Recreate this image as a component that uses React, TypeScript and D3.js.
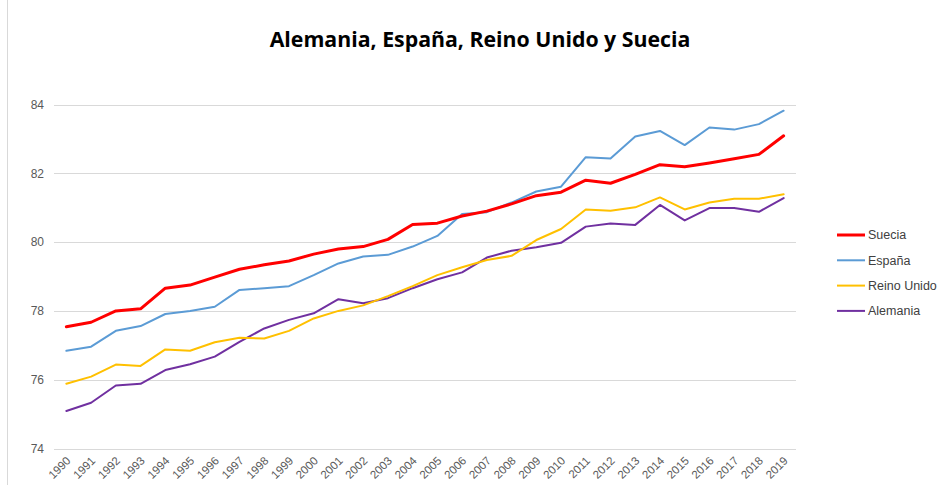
import React from "react";
import * as d3 from "d3";

const years = d3.range(1990, 2020).map(String);
const suecia = [77.54, 77.67, 78.0, 78.06, 78.66, 78.75, 78.98, 79.21, 79.34, 79.45, 79.65, 79.8, 79.87, 80.08, 80.51, 80.55, 80.76, 80.9, 81.11, 81.35, 81.45, 81.8, 81.71, 81.97, 82.25, 82.19, 82.3, 82.42, 82.55, 83.09];
const espana = [76.84, 76.96, 77.42, 77.56, 77.91, 78.0, 78.12, 78.61, 78.66, 78.72, 79.04, 79.38, 79.58, 79.63, 79.87, 80.18, 80.82, 80.87, 81.15, 81.47, 81.61, 82.47, 82.43, 83.07, 83.23, 82.82, 83.33, 83.27, 83.43, 83.82];
const reinoUnido = [75.88, 76.09, 76.44, 76.4, 76.88, 76.84, 77.09, 77.22, 77.2, 77.42, 77.78, 78.0, 78.16, 78.43, 78.72, 79.04, 79.27, 79.48, 79.6, 80.06, 80.38, 80.95, 80.91, 81.01, 81.3, 80.95, 81.15, 81.26, 81.26, 81.39];
const alemania = [75.09, 75.33, 75.83, 75.88, 76.28, 76.45, 76.67, 77.1, 77.49, 77.74, 77.93, 78.34, 78.22, 78.37, 78.66, 78.92, 79.12, 79.55, 79.75, 79.85, 79.98, 80.45, 80.54, 80.5, 81.08, 80.63, 80.99, 80.99, 80.88, 81.28];
const yTicks = [74, 76, 78, 80, 82, 84];
const title = "Alemania, España, Reino Unido y Suecia";

const seriesNames = ["Suecia", "España", "Reino Unido", "Alemania"];
const seriesColors = ["#FF0000", "#5B9BD5", "#FFC000", "#7030A0"];
const seriesWidths = [3, 2, 2, 2];

export default function App() {
  const W = 940, H = 485;
  const left = 54, right = 796, top = 104.5, bottom = 448.5;
  const x = d3.scaleBand<string>().domain(years).range([left, right]);
  const y = d3.scaleLinear().domain([74, 84]).range([bottom, top]);
  const data = [suecia, espana, reinoUnido, alemania];
  const line = d3
    .line<number>()
    .x((_, i) => (x(years[i]) as number) + x.bandwidth() / 2)
    .y((d) => y(d));
  const font = "'Liberation Sans', Arial, sans-serif";
  const order = [3, 2, 1, 0];
  return (
    <svg
      width={W}
      height={H}
      style={{ position: "absolute", left: 0, top: 0, background: "#fff" }}
      fontFamily={font}
    >
      <rect x={0} y={0} width={W} height={H} fill="#fff" />
      <line x1={7.5} x2={7.5} y1={0} y2={H} stroke="#D9D9D9" strokeWidth={1} />
      <text
        x={480}
        y={47}
        textAnchor="middle"
        fontSize={21.3}
        fontWeight="bold"
        fill="#000"
        fontFamily="'Open Sans', sans-serif"
      >
        {title}
      </text>
      {yTicks.map((t) => (
        <g key={t}>
          <line x1={left} x2={right} y1={Math.round(y(t)) + 0.5} y2={Math.round(y(t)) + 0.5} stroke="#D9D9D9" strokeWidth={1.2} />
          <text x={44} y={y(t)} dy="0.35em" textAnchor="end" fontSize={12} fill="#595959">
            {t}
          </text>
        </g>
      ))}
      {years.map((yr) => {
        const cx = (x(yr) as number) + x.bandwidth() / 2;
        return (
          <text
            key={yr}
            transform={`translate(${cx + 5},${bottom + 13}) rotate(-45)`}
            textAnchor="end"
            fontSize={11.5}
            fill="#595959"
          >
            {yr}
          </text>
        );
      })}
      {order.map((i) => (
        <path
          key={seriesNames[i]}
          d={line(data[i]) || ""}
          fill="none"
          stroke={seriesColors[i]}
          strokeWidth={seriesWidths[i]}
          strokeLinejoin="round"
          strokeLinecap="round"
        />
      ))}
      {seriesNames.map((n, i) => {
        const ly = 235 + i * 25.3;
        return (
          <g key={n}>
            <line x1={837} x2={865} y1={ly} y2={ly} stroke={seriesColors[i]} strokeWidth={seriesWidths[i]} />
            <text x={868} y={ly} dy="0.35em" fontSize={12.5} fill="#404040">
              {n}
            </text>
          </g>
        );
      })}
    </svg>
  );
}
